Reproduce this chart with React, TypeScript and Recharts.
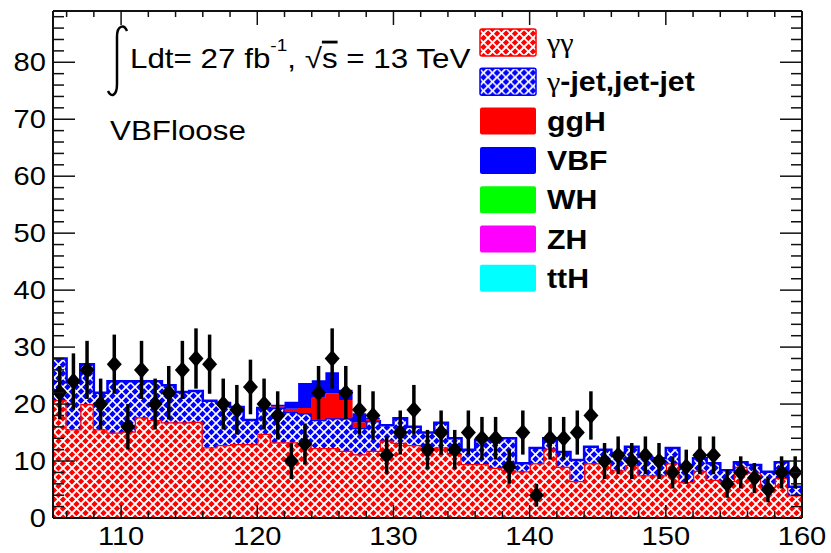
import React from "react";
import { ComposedChart, Area, Scatter, ErrorBar, XAxis, YAxis, Legend } from "recharts";

// bin low edges (GeV), last entry closes the final bin
const EDGES = [
  105, 106, 107, 108, 109, 110, 111, 112, 113, 114, 115, 116, 117, 118,
  119, 120, 121, 122, 123, 124, 125, 126, 127, 128, 129, 130, 131, 132,
  133, 134, 135, 136, 137, 138, 139, 140, 141, 142, 143, 144, 145, 146,
  147, 148, 149, 150, 151, 152, 153, 154, 155, 156, 157, 158, 159, 160,
];

const DATA_COUNTS = [
  22, 24, 26, 20, 27, 16, 26, 20, 22, 26,
  28, 27, 20, 19, 23, 20, 18, 10, 13, 22,
  28, 22, 19, 18, 11, 15, 19, 12, 15, 12,
  15, 14, 14, 9, 15, 4, 14, 14, 15, 18,
  10, 11, 10, 11, 10, 8, 9, 11, 11, 6,
  8, 7, 5, 8, 8,
];

const GAMMA_GAMMA = [
  20.7, 15.6, 20, 15.6, 15, 15.2, 17.7, 17.2, 16.8, 16.8,
  16.9, 12.4, 12.8, 13, 13, 14.8, 13.3, 13.3, 12.8, 12.3,
  12.3, 11.8, 11.2, 11.8, 13.6, 13.2, 12.8, 12.3, 12.4, 11.3,
  9.5, 9.5, 8.8, 8.4, 8.2, 9.6, 12.2, 9, 6.5, 9.6,
  9.6, 8.4, 9.3, 7.5, 7.5, 9.6, 6.3, 8.3, 6.7, 6.5,
  9, 8, 5.5, 7, 4,
];

const GAMMA_JET = [
  7.3, 8.2, 7, 6.4, 9, 8.8, 6.3, 6.8, 6.5, 5.3,
  5.4, 8.2, 7.4, 6.5, 4.2, 4.5, 6, 5.3, 5.6, 4.9,
  5.2, 5.7, 4.6, 5.2, 2.7, 4.3, 3.2, 2.7, 4.3, 2.7,
  2.5, 4.2, 4.9, 5.6, 1.4, 2.7, 1.8, 2.6, 3.7, 2.9,
  2.4, 3, 3.2, 3.2, 3, 2.7, 3, 2.2, 2.9, 1.9,
  0.8, 1.3, 2.6, 2.8, 1.5,
];

const GGH = [
  0, 0, 0, 0, 0, 0, 0, 0, 0, 0,
  0, 0, 0, 0, 0, 0, 0.3, 0.6, 0.9, 3.9,
  4.4, 3.2, 1.0, 0.3, 0, 0, 0, 0, 0, 0,
  0, 0, 0, 0, 0, 0, 0, 0, 0, 0,
  0, 0, 0, 0, 0, 0, 0, 0, 0, 0,
  0, 0, 0, 0, 0,
];

const VBF = [
  0, 0, 0, 0, 0, 0, 0, 0, 0, 0,
  0, 0, 0, 0, 0, 0, 0.3, 1.2, 4.4, 3.1,
  3.7, 1.8, 1.6, 0.3, 0, 0, 0, 0, 0, 0,
  0, 0, 0, 0, 0, 0, 0, 0, 0, 0,
  0, 0, 0, 0, 0, 0, 0, 0, 0, 0,
  0, 0, 0, 0, 0,
];

// WH, ZH, ttH are too small to be seen in this category
const WH = [
  0, 0, 0, 0, 0, 0, 0, 0, 0, 0, 0, 0, 0, 0, 0, 0, 0, 0, 0, 0,
  0, 0, 0, 0, 0, 0, 0, 0, 0, 0, 0, 0, 0, 0, 0, 0, 0, 0, 0, 0,
  0, 0, 0, 0, 0, 0, 0, 0, 0, 0, 0, 0, 0, 0, 0,
];
const ZH = WH.slice();
const TTH = WH.slice();

const X_LABELS = [110, 120, 130, 140, 150, 160];
const Y_LABELS = [0, 10, 20, 30, 40, 50, 60, 70, 80];

const LEGEND_NAMES = ["γγ", "γ-jet,jet-jet", "ggH", "VBF", "WH", "ZH", "ttH"];
const LEGEND_FILLS = ["url(#hatchRed)", "url(#hatchBlue)", "#ff0000", "#0000ff", "#00ff00", "#ff00ff", "#00ffff"];

const W = 831;
const H = 553;
const SX = 1.12; // the picture is stretched sideways
const FONT = "'Liberation Sans', Arial, Helvetica, sans-serif";
const FRAME = "#111";
const X_DOMAIN = [105, 160];
const Y_DOMAIN = [0, 89];

// minor ticks every 2
const xTicks: number[] = [];
for (let v = 106; v <= 160; v += 2) xTicks.push(v);
const yTicks: number[] = [];
for (let v = 0; v <= 88; v += 2) yTicks.push(v);

const rows = EDGES.map((m, i) => {
  const j = Math.min(i, GAMMA_GAMMA.length - 1);
  return {
    m,
    gg: GAMMA_GAMMA[j],
    jet: GAMMA_JET[j],
    ggH: GGH[j],
    vbf: VBF[j],
    wh: WH[j],
    zh: ZH[j],
    tth: TTH[j],
  };
});

const points = DATA_COUNTS.map((n, i) => ({
  m: EDGES[i] + 0.5,
  n,
  err: Math.sqrt(n),
}));

function SText({ x, y, size, anchor = "start", weight = "normal", children }: any) {
  return (
    <text
      transform={`translate(${x},${y}) scale(${SX},1)`}
      fontSize={size}
      fontFamily={FONT}
      fontWeight={weight}
      textAnchor={anchor}
      fill="#000"
    >
      {children}
    </text>
  );
}

const isMajor = (v: number) => v % 10 === 0;

const BottomTick = (p: any) => {
  const v = p.payload.value;
  return (
    <g>
      <line x1={p.x} x2={p.x} y1={p.y} y2={p.y - (isMajor(v) ? 13 : 7)} stroke={FRAME} strokeWidth={1.5} />
      {X_LABELS.includes(v) && (
        <SText x={p.x} y={p.y + 27} size={26} anchor="middle">{v}</SText>
      )}
    </g>
  );
};

const TopTick = (p: any) => {
  const v = p.payload.value;
  return <line x1={p.x} x2={p.x} y1={p.y} y2={p.y + (isMajor(v) ? 14 : 6)} stroke={FRAME} strokeWidth={1.5} />;
};

const LeftTick = (p: any) => {
  const v = p.payload.value;
  return (
    <g>
      {v > 0 && (
        <line x1={p.x} x2={p.x + (isMajor(v) ? 22 : 11)} y1={p.y} y2={p.y} stroke={FRAME} strokeWidth={1.5} />
      )}
      {Y_LABELS.includes(v) && (
        <SText x={p.x - 7} y={p.y + 9} size={26} anchor="end">{v}</SText>
      )}
    </g>
  );
};

const RightTick = (p: any) => {
  const v = p.payload.value;
  if (v === 0) return <g />;
  return <line x1={p.x} x2={p.x - (isMajor(v) ? 22 : 11)} y1={p.y} y2={p.y} stroke={FRAME} strokeWidth={1.5} />;
};

const Diamond = (p: any) => {
  const { cx, cy } = p;
  return <polygon points={`${cx},${cy - 8.5} ${cx + 7.5},${cy} ${cx},${cy + 8.5} ${cx - 7.5},${cy}`} fill="#000" />;
};

function LegendLabel({ name }: { name: string }) {
  // greek letters come from the symbol font, not bold
  const parts = name.split(/(γ)/).filter((s) => s.length > 0);
  return (
    <>
      {parts.map((s, k) =>
        s === "γ" ? (
          <tspan key={k} fontFamily="'Liberation Serif', 'DejaVu Serif', serif" fontWeight="normal">γ</tspan>
        ) : (
          <tspan key={k}>{s}</tspan>
        )
      )}
    </>
  );
}

const LegendBox = () => (
  <svg width={330} height={280} style={{ display: "block", overflow: "visible" }}>
    {LEGEND_NAMES.map((name, i) => (
      <g key={name} transform={`translate(0, ${i * 39.3})`}>
        <rect x={1} y={0} width={56} height={27} rx={2} fill={LEGEND_FILLS[i]} stroke={i === 1 ? "#0000ff" : i === 0 ? "#ff0000" : "none"} strokeWidth={1.5} />
        <SText x={68} y={23} size={27} weight="bold">
          <LegendLabel name={name} />
        </SText>
      </g>
    ))}
  </svg>
);

// frame with inward ticks on all four sides, drawn over the histograms
function Frame() {
  return (
    <ComposedChart width={W} height={H} data={rows} margin={{ top: 0, right: 0, bottom: 0, left: 0 }}>
      <XAxis
        xAxisId="b" type="number" dataKey="m" domain={X_DOMAIN} allowDataOverflow
        ticks={xTicks} interval={0} tickSize={0} tickMargin={0} tickLine={false}
        height={35} axisLine={{ stroke: FRAME, strokeWidth: 2 }} tick={BottomTick}
      />
      <XAxis
        xAxisId="t" orientation="top" type="number" dataKey="m" domain={X_DOMAIN} allowDataOverflow
        ticks={xTicks} interval={0} tickSize={0} tickMargin={0} tickLine={false}
        height={11} axisLine={{ stroke: FRAME, strokeWidth: 2 }} tick={TopTick}
      />
      <YAxis
        yAxisId="l" type="number" domain={Y_DOMAIN} allowDataOverflow
        ticks={yTicks} interval={0} tickSize={0} tickMargin={0} tickLine={false}
        width={53} axisLine={{ stroke: FRAME, strokeWidth: 2 }} tick={LeftTick}
      />
      <YAxis
        yAxisId="r" orientation="right" type="number" domain={Y_DOMAIN} allowDataOverflow
        ticks={yTicks} interval={0} tickSize={0} tickMargin={0} tickLine={false}
        width={29} axisLine={{ stroke: FRAME, strokeWidth: 2 }} tick={RightTick}
      />
    </ComposedChart>
  );
}

export default function App() {
  return (
    <div style={{ position: "absolute", left: 0, top: 0, width: W, height: H, background: "#fff" }}>
      <ComposedChart width={W} height={H} data={rows} margin={{ top: 0, right: 0, bottom: 0, left: 0 }}>
        <defs>
          <pattern id="hatchRed" patternUnits="userSpaceOnUse" width={9} height={9}>
            <rect width={9} height={9} fill="#ff0000" />
            <path d="M0,9 L9,0 M-2,2 L2,-2 M7,11 L11,7" stroke="#fff" strokeWidth={2} />
            <path d="M0,0 L9,9 M-2,7 L2,11 M7,-2 L11,2" stroke="#fff" strokeWidth={1.6} />
          </pattern>
          <pattern id="hatchBlue" patternUnits="userSpaceOnUse" width={9} height={9}>
            <rect width={9} height={9} fill="#0000ff" />
            <path d="M0,9 L9,0 M-2,2 L2,-2 M7,11 L11,7" stroke="#fff" strokeWidth={1.9} />
            <path d="M0,0 L9,9 M-2,7 L2,11 M7,-2 L11,2" stroke="#fff" strokeWidth={1.5} />
          </pattern>
        </defs>

        <Area xAxisId="b" yAxisId="l" type="stepAfter" dataKey="gg" name="γγ" stackId="s" fill="url(#hatchRed)" fillOpacity={1} stroke="#ff0000" strokeWidth={2.5} dot={false} activeDot={false} isAnimationActive={false} />
        <Area xAxisId="b" yAxisId="l" type="stepAfter" dataKey="jet" name="γ-jet,jet-jet" stackId="s" fill="url(#hatchBlue)" fillOpacity={1} stroke="#0000ff" strokeWidth={2.5} dot={false} activeDot={false} isAnimationActive={false} />
        <Area xAxisId="b" yAxisId="l" type="stepAfter" dataKey="ggH" name="ggH" stackId="s" fill="#ff0000" fillOpacity={1} stroke="none" dot={false} activeDot={false} isAnimationActive={false} />
        <Area xAxisId="b" yAxisId="l" type="stepAfter" dataKey="vbf" name="VBF" stackId="s" fill="#0000ff" fillOpacity={1} stroke="none" dot={false} activeDot={false} isAnimationActive={false} />
        <Area xAxisId="b" yAxisId="l" type="stepAfter" dataKey="wh" name="WH" stackId="s" fill="#00ff00" fillOpacity={1} stroke="none" dot={false} activeDot={false} isAnimationActive={false} />
        <Area xAxisId="b" yAxisId="l" type="stepAfter" dataKey="zh" name="ZH" stackId="s" fill="#ff00ff" fillOpacity={1} stroke="none" dot={false} activeDot={false} isAnimationActive={false} />
        <Area xAxisId="b" yAxisId="l" type="stepAfter" dataKey="tth" name="ttH" stackId="s" fill="#00ffff" fillOpacity={1} stroke="none" dot={false} activeDot={false} isAnimationActive={false} />

        <Scatter xAxisId="b" yAxisId="l" data={points} dataKey="n" name="Data" shape={Diamond} isAnimationActive={false}>
          <ErrorBar dataKey="err" direction="y" width={0} stroke="#000" strokeWidth={3.5} isAnimationActive={false} />
        </Scatter>

        <XAxis xAxisId="b" type="number" dataKey="m" domain={X_DOMAIN} allowDataOverflow height={35} tick={false} tickLine={false} axisLine={false} />
        <YAxis yAxisId="l" type="number" domain={Y_DOMAIN} allowDataOverflow width={53} tick={false} tickLine={false} axisLine={false} />
        <YAxis yAxisId="r" orientation="right" type="number" domain={Y_DOMAIN} allowDataOverflow width={29} tick={false} tickLine={false} axisLine={false} />
        <XAxis xAxisId="t" orientation="top" type="number" dataKey="m" domain={X_DOMAIN} allowDataOverflow height={11} tick={false} tickLine={false} axisLine={false} />

        <Legend
          layout="vertical" align="center" verticalAlign="middle"
          content={() => <LegendBox />}
          wrapperStyle={{ left: 479, top: 29, width: 330, height: 280 }}
        />

        {/* integral sign drawn as a stroke, like ROOT's TLatex */}
        <path d="M127,31 C124,24 117,25 117,37 L117,84 C117,96 111,98 108,91" stroke="#000" strokeWidth={2.5} fill="none" />
        <text transform={`translate(130,68) scale(${SX},1)`} fontSize={28} fontFamily={FONT} fill="#000">
          Ldt= 27 fb
          <tspan dy={-17} fontSize={17}>-1</tspan>
          <tspan dy={17}>, </tspan>
          <tspan>√</tspan>
          <tspan textDecoration="overline">s</tspan>
          <tspan> = 13 TeV</tspan>
        </text>
        <SText x={110} y={140} size={28}>VBFloose</SText>
      </ComposedChart>
      <div style={{ position: "absolute", left: 0, top: 0, pointerEvents: "none" }}>
        <Frame />
      </div>
    </div>
  );
}
